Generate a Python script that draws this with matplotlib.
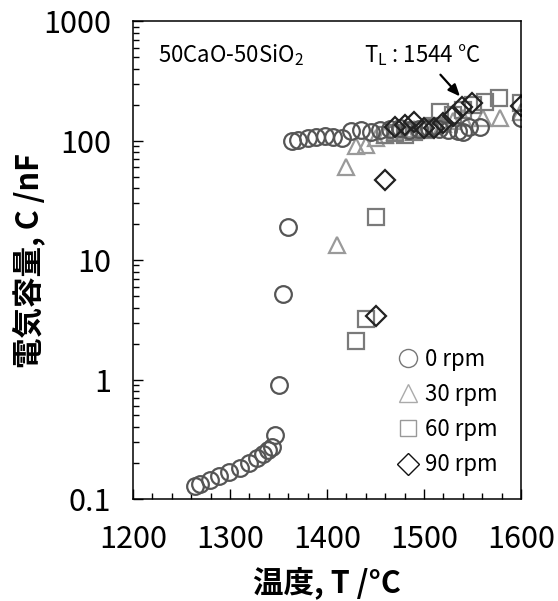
import numpy as np
import matplotlib
matplotlib.use("Agg")
from matplotlib import pyplot as plt
from matplotlib.lines import Line2D
from matplotlib.ticker import LogLocator, NullFormatter, MultipleLocator, FixedLocator, FixedFormatter

plt.rcParams['font.family'] = ['Noto Sans CJK JP', 'DejaVu Sans']
plt.rcParams['mathtext.fontset'] = 'custom'
plt.rcParams['mathtext.rm'] = 'Noto Sans CJK JP'

# 0 rpm
t0 = [1264, 1269, 1279, 1289, 1299, 1310, 1320, 1328, 1334, 1339, 1343, 1346, 1350, 1355, 1360,
      1364, 1370, 1380, 1389, 1398, 1406, 1415, 1425, 1435, 1445, 1455, 1465, 1475, 1485, 1495,
      1505, 1515, 1525, 1535, 1540, 1546, 1558, 1600]
c0 = [0.128, 0.133, 0.144, 0.156, 0.169, 0.181, 0.201, 0.219, 0.238, 0.257, 0.274, 0.344, 0.90, 5.2, 19.0,
      100, 101, 104, 108, 109, 108, 104, 120, 122, 119, 122, 125, 128, 122, 125,
      128, 125, 122, 120, 118, 131, 131, 153]
# 30 rpm
t30 = [1410, 1420, 1430, 1440, 1450, 1460, 1470, 1480, 1490, 1500, 1510, 1520, 1530, 1540, 1561, 1578, 1600]
c30 = [13.3, 60, 90, 92, 105, 112, 118, 122, 125, 128, 133, 138, 145, 155, 153, 154, 174]
# 60 rpm
t60 = [1430, 1440, 1450, 1460, 1470, 1480, 1490, 1500, 1510, 1516, 1530, 1540, 1550, 1563, 1577, 1600]
c60 = [2.1, 3.2, 23, 112, 115, 111, 118, 122, 132, 172, 165, 180, 198, 211, 225, 205]
# 90 rpm
t90 = [1450, 1460, 1470, 1480, 1490, 1500, 1510, 1520, 1530, 1539, 1549, 1600]
c90 = [3.4, 47, 131, 134, 143, 127, 127, 141, 160, 192, 208, 193]

fig = plt.figure(figsize=(5.58, 6.01), dpi=100)
ax = fig.add_axes([0.2384, 0.1697, 0.6953, 0.7953])

ax.plot(t30, c30, ls='none', marker='^', ms=12, mfc='none', mec='#9a9a9a', mew=1.6)
ax.plot(t60, c60, ls='none', marker='s', ms=11.5, mfc='none', mec='#7a7a7a', mew=1.6)
ax.plot(t0, c0, ls='none', marker='o', ms=12, mfc='none', mec='#555555', mew=1.6)
ax.plot(t90, c90, ls='none', marker='D', ms=10, mfc='none', mec='#222222', mew=1.6)

ax.set_yscale('log')
ax.set_xlim(1200, 1600)
ax.set_ylim(0.1, 1000)

ax.xaxis.set_major_locator(MultipleLocator(100))
ax.xaxis.set_minor_locator(MultipleLocator(20))
ax.yaxis.set_major_locator(FixedLocator([0.1, 1, 10, 100, 1000]))
ax.yaxis.set_major_formatter(FixedFormatter(['0.1', '1', '10', '100', '1000']))
ax.yaxis.set_minor_locator(LogLocator(base=10, subs=np.arange(2, 10)))
ax.yaxis.set_minor_formatter(NullFormatter())

ax.tick_params(which='both', direction='in', top=False, right=False, labelsize=22)
ax.tick_params(axis='x', pad=18)
ax.tick_params(axis='y', pad=16)
ax.tick_params(which='major', length=7, width=1)
ax.tick_params(which='minor', length=4, width=1)
for s in ax.spines.values():
    s.set_linewidth(1.1)

ax.set_xlabel('温度, T /°C', fontsize=22, fontweight='bold')
ax.set_ylabel('電気容量, C /nF', fontsize=22, fontweight='bold')
ax.xaxis.set_label_coords(0.5, -0.143)
ax.yaxis.set_label_coords(-0.227, 0.5)

ax.text(0.065, 0.915, r'50CaO-50SiO$\mathregular{_2}$', transform=ax.transAxes, fontsize=16)
ax.text(0.595, 0.915, r'T$\mathregular{_L}$ : 1544 °C', transform=ax.transAxes, fontsize=16)
ax.annotate('', xy=(1539, 225), xytext=(1515, 370),
            arrowprops=dict(arrowstyle='-|>,head_length=0.7,head_width=0.3', color='black', lw=1.6))

handles = [
    Line2D([], [], ls='none', marker='o', ms=13, mfc='none', mec='#777777', mew=1.0),
    Line2D([], [], ls='none', marker='^', ms=13, mfc='none', mec='#aaaaaa', mew=1.0),
    Line2D([], [], ls='none', marker='s', ms=12, mfc='none', mec='#999999', mew=1.0),
    Line2D([], [], ls='none', marker='D', ms=11, mfc='none', mec='#111111', mew=1.0),
]
ax.legend(handles, ['0 rpm', '30 rpm', '60 rpm', '90 rpm'], loc='lower right',
          bbox_to_anchor=(0.98, 0.015), frameon=False, fontsize=16, handletextpad=0.25,
          handlelength=1.0, labelspacing=0.55, borderaxespad=0.3)

fig.savefig('out.png', dpi=100)
